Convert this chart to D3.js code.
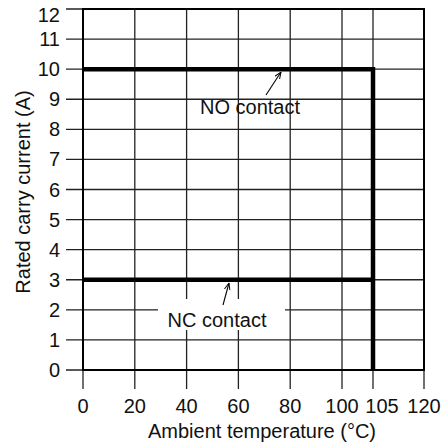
<!DOCTYPE html>
<html lang="en">
	<head>
		<meta charset="utf-8">
		<title>Rated carry current</title>
		<script type="text/javascript" src="https://cdn.jsdelivr.net/npm/d3@7"></script>
		<style type="text/css">
			body{
				margin: 0;
				background: #fff;
			}
			text{
				font-family: "Liberation Sans", Arial, sans-serif;
				font-size: 20px;
				fill: #111;
			}
		</style>
	</head>
	<body>
		<script type="text/javascript">

			// ticks / grid
			var xTicks = [0, 20, 40, 60, 80, 100, 105, 120];
			var yTicks = [0, 1, 2, 3, 4, 5, 6, 7, 8, 9, 10, 11, 12];

			// rated current curves (temp, amps)
			var noContact = [[0, 10], [105, 10], [105, 0]];
			var ncContact = [[0, 3], [105, 3]];

			var svg = d3.select("body")
						.append("svg")
						.attr("width", 447)
						.attr("height", 446);

			// x axis is not uniform: 100 -> 105 gets a narrower column
			var x = d3.scaleLinear()
						.domain([0, 100, 105, 120])
						.range([83, 342, 373, 424]);

			var y = d3.scaleLinear()
						.domain([0, 12])
						.range([370, 9]);

			var grid = svg.append("g").attr("class", "grid");

			//horizontal lines + left ticks
			grid.selectAll(".hline")
				.data(yTicks)
				.enter()
				.append("line")
				.attr("x1", 66)
				.attr("x2", x(120))
				.attr("y1", function(d) {return y(d);})
				.attr("y2", function(d) {return y(d);})
				.attr("stroke", "#222")
				.attr("stroke-width", 1.3);

			//vertical lines + bottom ticks
			grid.selectAll(".vline")
				.data(xTicks)
				.enter()
				.append("line")
				.attr("x1", function(d) {return x(d);})
				.attr("x2", function(d) {return x(d);})
				.attr("y1", y(12))
				.attr("y2", 389)
				.attr("stroke", "#222")
				.attr("stroke-width", 1.3);

			// frame
			svg.append("rect")
				.attr("x", x(0))
				.attr("y", y(12))
				.attr("width", x(120) - x(0))
				.attr("height", y(0) - y(12))
				.attr("fill", "none")
				.attr("stroke", "#000")
				.attr("stroke-width", 2);

			// tick labels (top one pushed down so it stays on the page)
			svg.append("g").selectAll("text")
				.data(yTicks)
				.enter()
				.append("text")
				.attr("x", 60)
				.attr("y", function(d) {return Math.max(y(d) + 7, 22);})
				.attr("text-anchor", "end")
				.text(function(d) {return d;});

			svg.append("g").selectAll("text")
				.data(xTicks)
				.enter()
				.append("text")
				.attr("x", function(d) {return x(d) + (d === 105 ? 9 : 0);})
				.attr("y", 413)
				.attr("text-anchor", "middle")
				.text(function(d) {return d;});

			// axis titles
			svg.append("text")
				.attr("x", 262)
				.attr("y", 438)
				.attr("text-anchor", "middle")
				.text("Ambient temperature (\u00B0C)");

			svg.append("text")
				.attr("transform", "translate(30,192) rotate(-90)")
				.attr("text-anchor", "middle")
				.text("Rated carry current (A)");

			// curves
			var line = d3.line()
						.x(function(d) {return x(d[0]);})
						.y(function(d) {return y(d[1]);});

			svg.selectAll(".curve")
				.data([noContact, ncContact])
				.enter()
				.append("path")
				.attr("class", "curve")
				.attr("d", line)
				.attr("fill", "none")
				.attr("stroke", "#000")
				.attr("stroke-width", 4.5)
				.attr("stroke-linejoin", "miter");

			// white patch behind NC label
			svg.append("rect")
				.attr("x", 158)
				.attr("y", 299)
				.attr("width", 127)
				.attr("height", 31)
				.attr("fill", "#fff");

			svg.append("text")
				.attr("x", 250)
				.attr("y", 114)
				.attr("text-anchor", "middle")
				.text("NO contact");

			svg.append("text")
				.attr("x", 217)
				.attr("y", 327)
				.attr("text-anchor", "middle")
				.text("NC contact");

			// arrows
			svg.append("defs").append("marker")
				.attr("id", "head")
				.attr("viewBox", "0 0 10 10")
				.attr("refX", 10)
				.attr("refY", 5)
				.attr("markerWidth", 7)
				.attr("markerHeight", 7)
				.attr("markerUnits", "userSpaceOnUse")
				.attr("orient", "auto")
				.append("path")
				.attr("d", "M0,1 L10,5 L0,9")
				.attr("fill", "none")
				.attr("stroke", "#000")
				.attr("stroke-width", 1.4);

			var arrows = [[266, 95, 281, 72], [223, 305, 229, 283]];
			svg.selectAll(".arrow")
				.data(arrows)
				.enter()
				.append("line")
				.attr("x1", function(d) {return d[0];})
				.attr("y1", function(d) {return d[1];})
				.attr("x2", function(d) {return d[2];})
				.attr("y2", function(d) {return d[3];})
				.attr("stroke", "#000")
				.attr("stroke-width", 1.1)
				.attr("marker-end", "url(#head)");

		</script>
	</body>
</html>
